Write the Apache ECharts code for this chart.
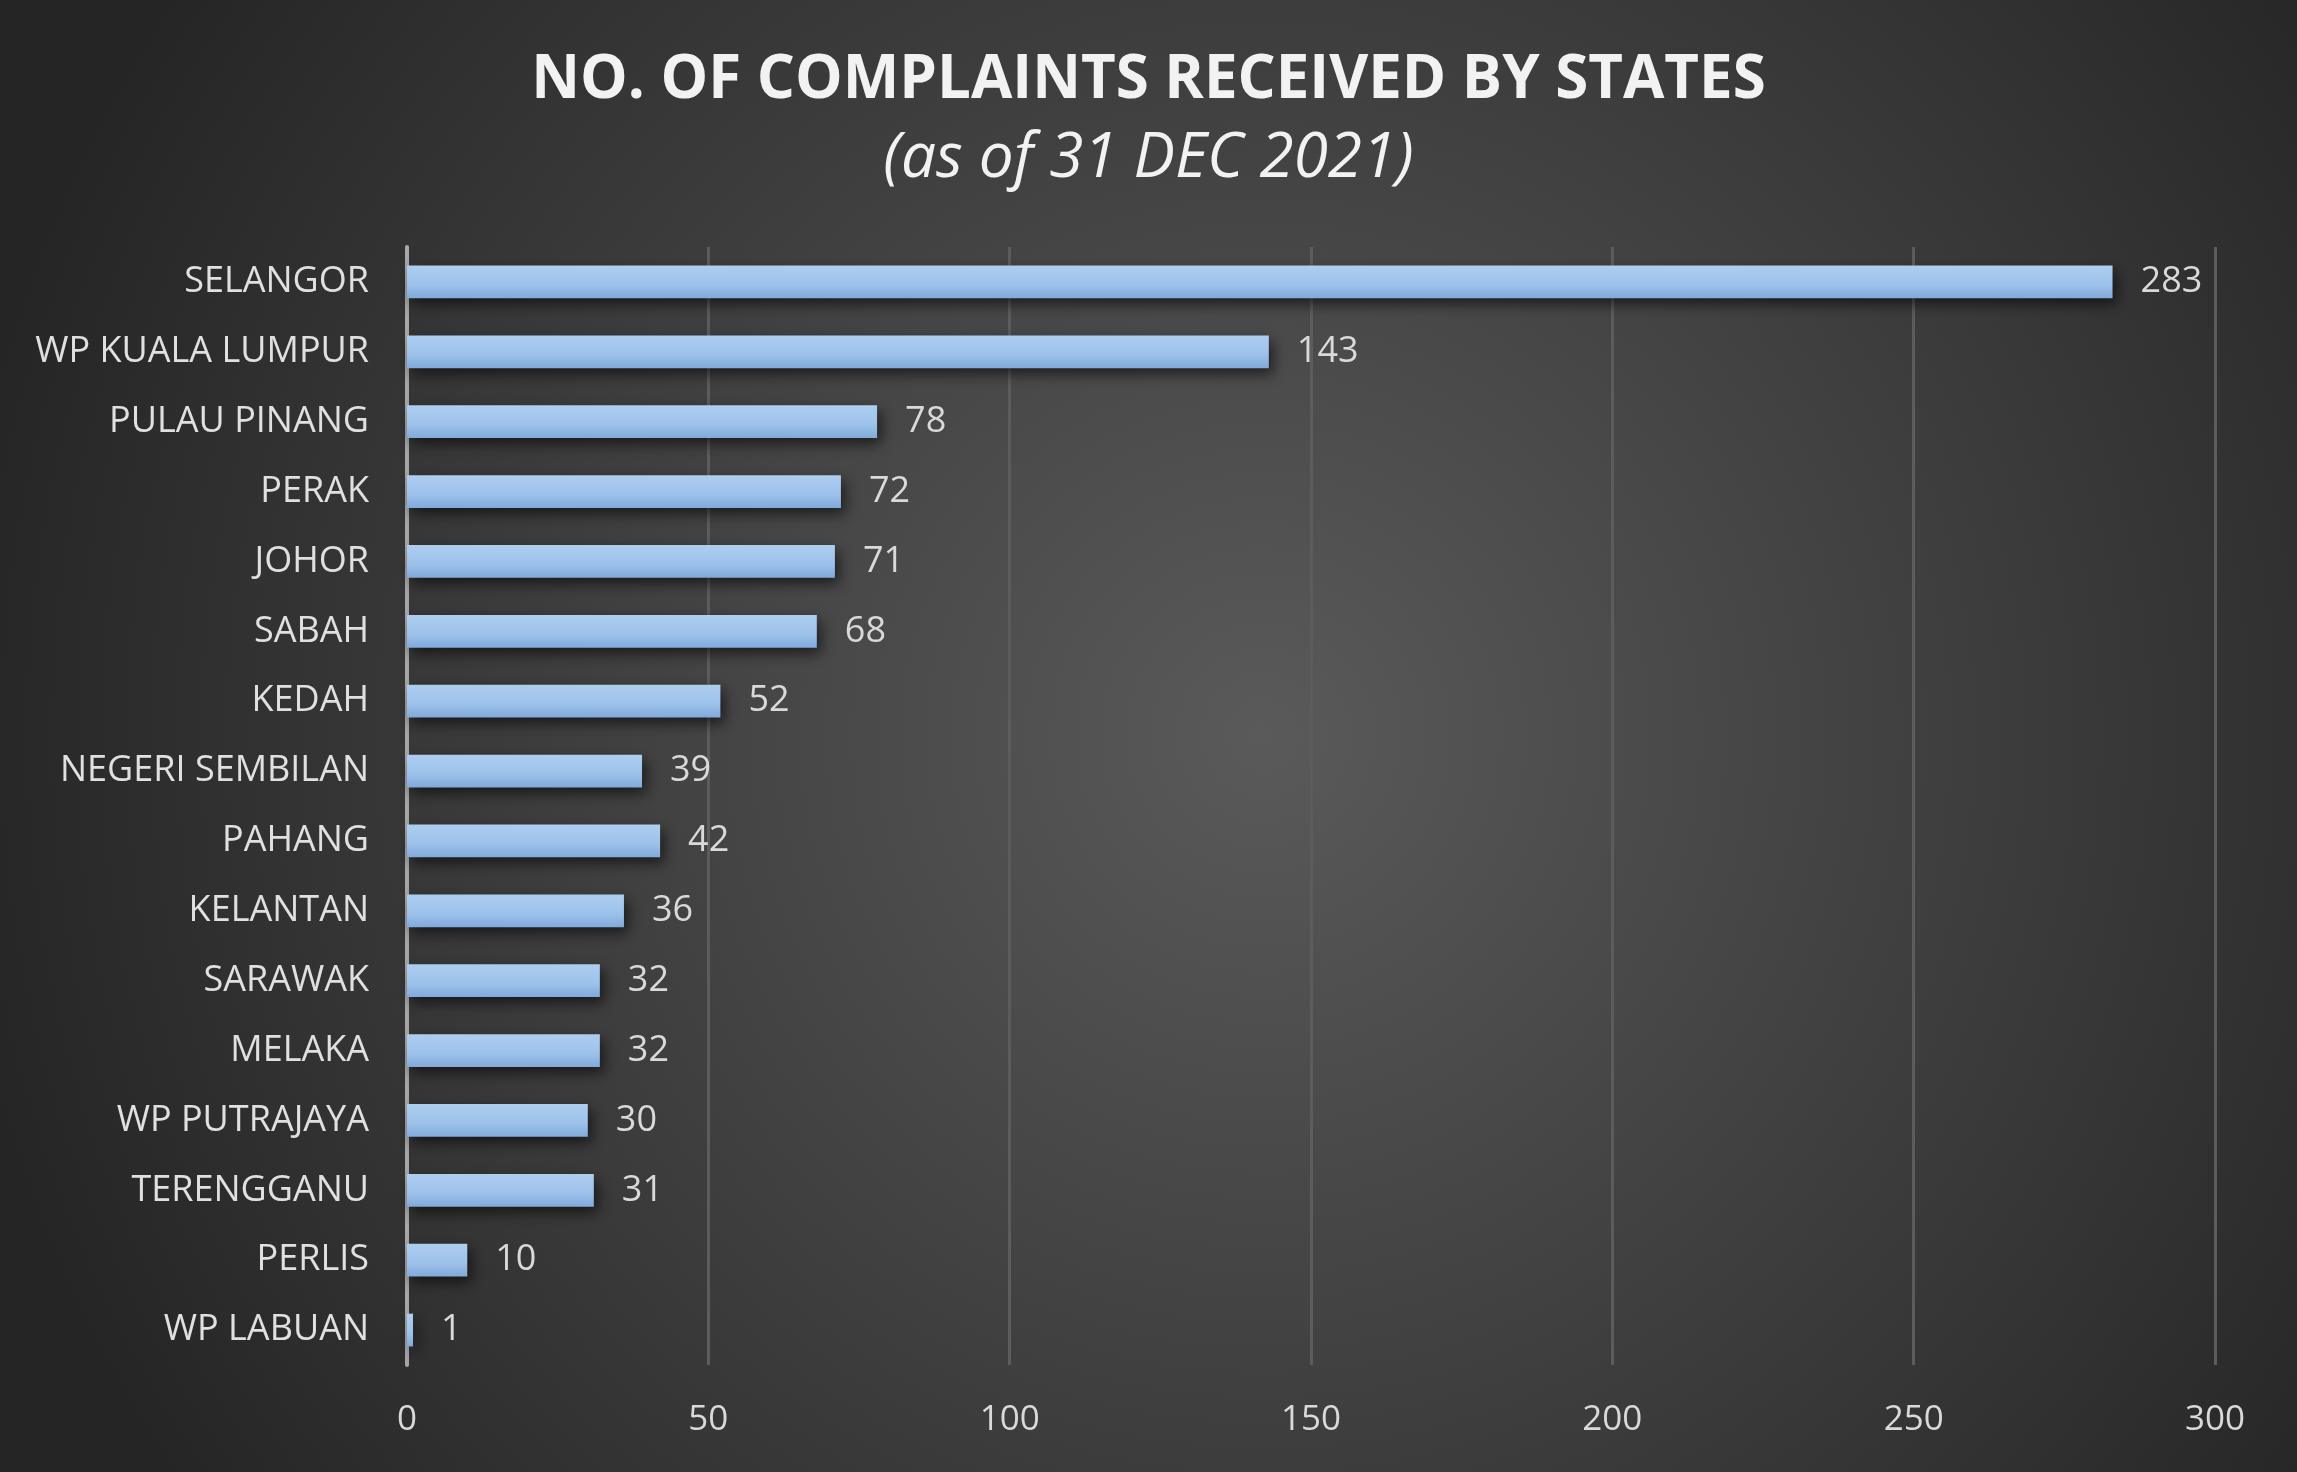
<!DOCTYPE html>
<html>
<head>
<meta charset="utf-8">
<script src="https://cdn.jsdelivr.net/npm/echarts@6/dist/echarts.min.js"></script>
<style>
    html, body { margin: 0; padding: 0; background: #262626; }
    #chart { width: 2297px; height: 1472px; }
</style>
</head>
<body>
<div id="chart"></div>
<script>
var states = ['SELANGOR', 'WP KUALA LUMPUR', 'PULAU PINANG', 'PERAK', 'JOHOR', 'SABAH', 'KEDAH',
    'NEGERI SEMBILAN', 'PAHANG', 'KELANTAN', 'SARAWAK', 'MELAKA', 'WP PUTRAJAYA', 'TERENGGANU',
    'PERLIS', 'WP LABUAN'];
var complaints = [283, 143, 78, 72, 71, 68, 52, 39, 42, 36, 32, 32, 30, 31, 10, 1];
var xTicks = [0, 50, 100, 150, 200, 250, 300];

var chart = echarts.init(document.getElementById('chart'));
var labelFont = '"Open Sans", sans-serif';

chart.setOption({
    backgroundColor: new echarts.graphic.RadialGradient(0.55, 0.5, 0.9, [
        { offset: 0, color: '#5a5a5a' },
        { offset: 1, color: '#252525' }
    ]),
    title: {
        text: 'NO. OF COMPLAINTS RECEIVED BY STATES',
        subtext: '(as of 31 DEC 2021)',
        left: 'center',
        top: 47,
        itemGap: 17,
        textStyle: {
            color: '#f2f2f2',
            fontFamily: labelFont,
            fontWeight: 'bold',
            fontSize: 60,
            lineHeight: 58
        },
        subtextStyle: {
            color: '#f2f2f2',
            fontFamily: labelFont,
            fontStyle: 'italic',
            fontSize: 62,
            lineHeight: 60
        }
    },
    grid: {
        left: 407,
        right: 82,
        top: 247,
        bottom: 107
    },
    xAxis: {
        type: 'value',
        min: xTicks[0],
        max: xTicks[xTicks.length - 1],
        interval: 50,
        axisLine: { show: false },
        axisTick: { show: false },
        splitLine: { lineStyle: { color: '#5c5c5c', width: 3 } },
        axisLabel: {
            color: '#d9d9d9',
            fontFamily: labelFont,
            fontSize: 35,
            margin: 38
        }
    },
    yAxis: {
        type: 'category',
        data: states,
        inverse: true,
        axisLine: { show: true, lineStyle: { color: '#a6a6a6', width: 4 } },
        axisTick: { show: false },
        axisLabel: {
            color: '#e0e0e0',
            fontFamily: labelFont,
            fontSize: 36,
            margin: 38
        }
    },
    series: [{
        type: 'bar',
        data: complaints,
        barCategoryGap: '53%',
        itemStyle: {
            color: new echarts.graphic.LinearGradient(0, 0, 0, 1, [
                { offset: 0, color: '#aecef0' },
                { offset: 0.6, color: '#9cc1ea' },
                { offset: 1, color: '#80aadb' }
            ]),
            shadowColor: 'rgba(0, 0, 0, 0.6)',
            shadowBlur: 14,
            shadowOffsetY: 6,
            shadowOffsetX: 4
        },
        label: {
            show: true,
            position: 'right',
            distance: 28,
            color: '#d9d9d9',
            fontFamily: labelFont,
            fontSize: 36
        }
    }]
});
</script>
</body>
</html>
